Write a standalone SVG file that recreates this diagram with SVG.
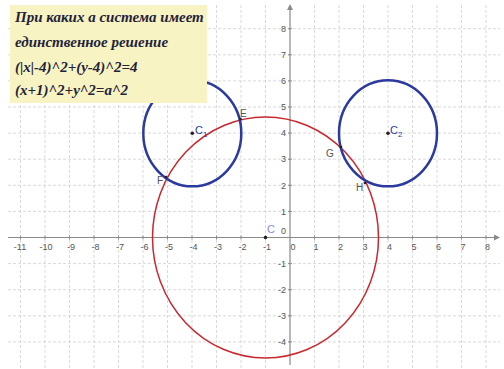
<svg xmlns="http://www.w3.org/2000/svg" width="504" height="369" viewBox="0 0 504 369">
<style>
.grid{stroke:#cfcfcf;stroke-width:0.8;stroke-dasharray:3 2;fill:none}
.axis{stroke:#8a8a8a;stroke-width:1.2;fill:none}
.tick{stroke:#8a8a8a;stroke-width:1}
.tl{font-family:"Liberation Sans",Arial,sans-serif;font-size:9px;fill:#555}
.blue{fill:none;stroke:#2a3a9e;stroke-width:2.5}
.red{fill:none;stroke:#c8282e;stroke-width:1.5}
.pt{fill:#222}
.pl{font-family:"Liberation Sans",Arial,sans-serif;font-size:10px;fill:#555}
.cl{font-family:"Liberation Sans",Arial,sans-serif;font-size:11px;fill:#2a3a9e}
.tx{font-family:"Liberation Serif","Times New Roman",serif;font-style:italic;font-weight:bold;font-size:15px;fill:#22223a}
</style>
<rect width="504" height="369" fill="#ffffff"/>
<g id="grid">
<path class="grid" d="M20.5 5V369M45 5V369M69.5 5V369M94 5V369M118.5 5V369M143 5V369M167.5 5V369M192 5V369M216.5 5V369M241 5V369M265.5 5V369M314.5 5V369M339 5V369M363.5 5V369M388 5V369M412.5 5V369M437 5V369M461.5 5V369M486 5V369"/>
<path class="grid" d="M8 28.7H500M8 54.8H500M8 80.9H500M8 107H500M8 133.1H500M8 159.2H500M8 185.3H500M8 211.4H500M8 263.6H500M8 289.7H500M8 315.8H500M8 341.9H500"/>
</g>
<g id="axes">
<path class="axis" d="M8 237.5H498M290 365V7"/>
<path d="M500 237.5l-6 -3v6z" fill="#8a8a8a"/>
<path d="M290 4l-3 6h6z" fill="#8a8a8a"/>
<path class="tick" d="M20.5 235.5v4M45 235.5v4M69.5 235.5v4M94 235.5v4M118.5 235.5v4M143 235.5v4M167.5 235.5v4M192 235.5v4M216.5 235.5v4M241 235.5v4M265.5 235.5v4M314.5 235.5v4M339 235.5v4M363.5 235.5v4M388 235.5v4M412.5 235.5v4M437 235.5v4M461.5 235.5v4M486 235.5v4"/>
<path class="tick" d="M288 28.7h4M288 54.8h4M288 80.9h4M288 107h4M288 133.1h4M288 159.2h4M288 185.3h4M288 211.4h4M288 263.6h4M288 289.7h4M288 315.8h4M288 341.9h4"/>
<g class="tl" text-anchor="middle">
<text x="20" y="250">-11</text><text x="46" y="250">-10</text><text x="71" y="250">-9</text><text x="95.5" y="250">-8</text><text x="120" y="250">-7</text><text x="144.5" y="250">-6</text><text x="169" y="250">-5</text><text x="193.5" y="250">-4</text><text x="218" y="250">-3</text><text x="242.5" y="250">-2</text><text x="267" y="250">-1</text><text x="293" y="250">0</text><text x="316" y="250">1</text><text x="340.5" y="250">2</text><text x="365" y="250">3</text><text x="389.5" y="250">4</text><text x="414" y="250">5</text><text x="438.5" y="250">6</text><text x="463" y="250">7</text><text x="487.5" y="250">8</text>
</g>
<g class="tl" text-anchor="end">
<text x="286" y="32">8</text><text x="286" y="58">7</text><text x="286" y="84">6</text><text x="286" y="110">5</text><text x="286" y="136">4</text><text x="286" y="162">3</text><text x="286" y="188.5">2</text><text x="286" y="214.5">1</text><text x="286" y="234">0</text><text x="286" y="267">-1</text><text x="286" y="293">-2</text><text x="286" y="319">-3</text><text x="286" y="345">-4</text>
</g>
</g>
<g id="circle-c">
<ellipse class="red" cx="265.5" cy="237.5" rx="113" ry="120.5"/>
<circle class="pt" cx="265.5" cy="237.5" r="1.8"/>
<text x="267" y="233" style="font-family:'Liberation Sans',Arial,sans-serif;font-size:11px;fill:#8a86e0">C</text>
</g>
<g id="circle-c1">
<ellipse class="blue" cx="192.3" cy="133.3" rx="49" ry="53"/>
<circle class="pt" cx="192.3" cy="133.3" r="1.8"/>
<text class="cl" x="195" y="134">C<tspan font-size="8" dy="3">1</tspan></text>
</g>
<g id="circle-c2">
<ellipse class="blue" cx="388" cy="133.3" rx="49" ry="53"/>
<circle class="pt" cx="388" cy="133.3" r="1.8"/>
<text class="cl" x="390" y="134">C<tspan font-size="8" dy="3">2</tspan></text>
</g>
<g id="point-e"><circle class="pt" cx="240.5" cy="119" r="1.3"/><text class="pl" x="240" y="117">E</text></g>
<g id="point-f"><circle class="pt" cx="166" cy="177" r="1.3"/><text class="pl" x="157" y="184">F</text></g>
<g id="point-g"><circle class="pt" cx="341" cy="147" r="1.3"/><text class="pl" x="326" y="157">G</text></g>
<g id="point-h"><circle class="pt" cx="365" cy="183" r="1.3"/><text class="pl" x="356" y="191">H</text></g>
<g id="textbox">
<rect x="10" y="5" width="197" height="98" fill="#f8f3c2"/>
<text class="tx" x="15" y="22">При  каких а система имеет</text>
<text class="tx" x="15" y="47">единственное решение</text>
<text class="tx" x="15" y="72">(|x|-4)^2+(y-4)^2=4</text>
<text class="tx" x="15" y="95">(x+1)^2+y^2=a^2</text>
</g>
</svg>
